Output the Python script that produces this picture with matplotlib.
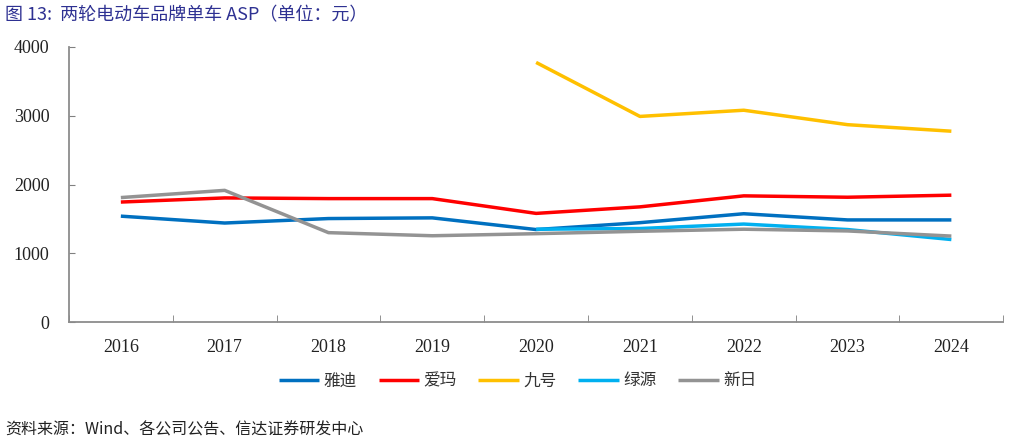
import matplotlib.pyplot as plt
import numpy as np

plt.rcParams['font.family'] = ['Noto Sans CJK SC', 'DejaVu Sans']

# data
years = ['2016', '2017', '2018', '2019', '2020', '2021', '2022', '2023', '2024']
yadea = [1540, 1440, 1505, 1515, 1345, 1445, 1575, 1485, 1485]
aima = [1745, 1805, 1795, 1795, 1580, 1675, 1835, 1815, 1845]
ninebot = [np.nan, np.nan, np.nan, np.nan, 3775, 2990, 3080, 2870, 2775]
luyuan = [np.nan, np.nan, np.nan, np.nan, 1350, 1360, 1425, 1345, 1200]
sunra = [1810, 1915, 1300, 1255, 1285, 1320, 1350, 1325, 1250]

names = ['雅迪', '爱玛', '九号', '绿源', '新日']
colors = ['#0070C0', '#FF0000', '#FFC000', '#00B0F0', '#939393']
series = [yadea, aima, ninebot, luyuan, sunra]

fig = plt.figure(figsize=(10.29, 4.43), dpi=100)
ax = fig.add_axes([0.067, 0.273, 0.908, 0.621])

x = np.arange(len(years))
for vals, name, c in zip(series, names, colors):
    ax.plot(x, vals, color=c, lw=2.5, label=name, solid_capstyle='butt')

ax.set_xlim(-0.5, len(years) - 0.5)
ax.set_ylim(0, 4000)
ax.set_yticks([0, 1000, 2000, 3000, 4000])
ax.set_xticks(x)
ax.set_xticklabels(years)
ax.set_xticks(np.arange(-0.5, len(years) + 0.5, 1), minor=True)
ax.tick_params(axis='x', which='major', length=0, pad=12)
ax.tick_params(axis='x', which='minor', direction='in', length=5, color='#808080')
ax.tick_params(axis='y', direction='in', length=4, color='#808080', pad=14)
for lbl in ax.get_xticklabels() + ax.get_yticklabels():
    lbl.set_fontfamily('Liberation Serif')
    lbl.set_fontsize(13)
    lbl.set_color('#222222')

ax.spines['top'].set_visible(False)
ax.spines['right'].set_visible(False)
for s in ['left', 'bottom']:
    ax.spines[s].set_color('#8c8c8c')
    ax.spines[s].set_linewidth(1.3)

leg = fig.legend(loc='center', bbox_to_anchor=(0.503, 0.14), ncol=5, frameon=False,
                 fontsize=12, handlelength=2.45, columnspacing=1.3, handletextpad=0.25)
for t in leg.get_texts():
    t.set_color('#333333')

fig.text(0.005, 0.965, '图 13:  两轮电动车品牌单车 ASP（单位：元）', fontsize=13,
         color='#2E3192', va='center', ha='left')
fig.text(0.005, 0.03, '资料来源：Wind、各公司公告、信达证券研发中心', fontsize=11.5,
         style='italic', color='#222222', va='center', ha='left')

fig.savefig('out.png', dpi=100)
